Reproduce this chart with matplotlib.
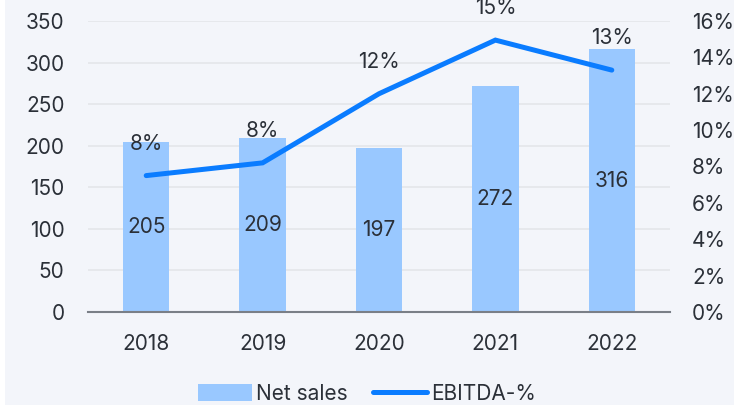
import matplotlib
matplotlib.use("Agg")
import matplotlib.pyplot as plt
from matplotlib.patches import Rectangle
from matplotlib.ticker import FuncFormatter
import numpy as np

years = ["2018", "2019", "2020", "2021", "2022"]
net_sales = [205, 209, 197, 272, 316]
ebitda_pct = [7.5, 8.2, 12.0, 14.95, 13.3]
ebitda_labels = ["8%", "8%", "12%", "15%", "13%"]

BG = "#f3f5fa"
TXT = "#2b3038"
BAR = "#99c8ff"
LINE = "#0a7cff"
FS = 15

plt.rcParams["font.family"] = ["Inter", "DejaVu Sans"]

fig = plt.figure(figsize=(7.34, 4.05), dpi=100, facecolor=BG)
# thin white strip on the left edge
fig.patches.append(Rectangle((0, 0), 5 / 734, 1, transform=fig.transFigure,
                             facecolor="white", edgecolor="none", zorder=0))

ax = fig.add_axes([88 / 734, 1 - 312 / 405, (670 - 88) / 734, (312 - 21) / 405])
ax.set_facecolor(BG)
x = np.arange(len(years))

bars = ax.bar(x, net_sales, width=0.4, color=BAR, label="Net sales", zorder=2)
for xi, v in zip(x, net_sales):
    ax.text(xi, v / 2, f"{v}", ha="center", va="center", fontsize=FS, color=TXT, zorder=4)

ax.set_xlim(-0.5, 4.5)
ax.set_ylim(0, 350)
ax.set_yticks(range(0, 351, 50))
ax.set_xticks(x, years)
ax.grid(axis="y", color="#e4e6ea", lw=1.2, zorder=0)
for s in ["top", "right", "left"]:
    ax.spines[s].set_visible(False)
ax.spines["bottom"].set_color("#7a7f87")
ax.spines["bottom"].set_linewidth(1.5)
ax.spines["bottom"].set_zorder(5)
ax.tick_params(axis="both", length=0, labelsize=FS, labelcolor=TXT)
ax.tick_params(axis="y", pad=17)
ax.tick_params(axis="x", pad=16)

ax2 = ax.twinx()
ax2.set_ylim(0, 16)
ax2.set_yticks(range(0, 17, 2))
ax2.yaxis.set_major_formatter(FuncFormatter(lambda v, p: f"{v:.0f}%"))
ax2.tick_params(axis="y", length=0, labelsize=FS, labelcolor=TXT, pad=16)
for s in ax2.spines.values():
    s.set_visible(False)
line, = ax2.plot(x, ebitda_pct, color=LINE, lw=3.6, solid_capstyle="round",
                 solid_joinstyle="miter", label="EBITDA-%", zorder=3)
for xi, v, lab in zip(x, ebitda_pct, ebitda_labels):
    ax2.annotate(lab, (xi, v), xytext=(0, 32), textcoords="offset pixels",
                 ha="center", va="center", fontsize=FS, color=TXT)

fig.legend([bars, line], ["Net sales", "EBITDA-%"], loc="center",
           bbox_to_anchor=(0.5, 1 - 394 / 405), ncol=2, frameon=False,
           fontsize=FS, labelcolor=TXT, handlelength=2.6, handleheight=0.9,
           columnspacing=1.2, handletextpad=0.2)

fig.savefig("out.png", dpi=100, facecolor=BG)
